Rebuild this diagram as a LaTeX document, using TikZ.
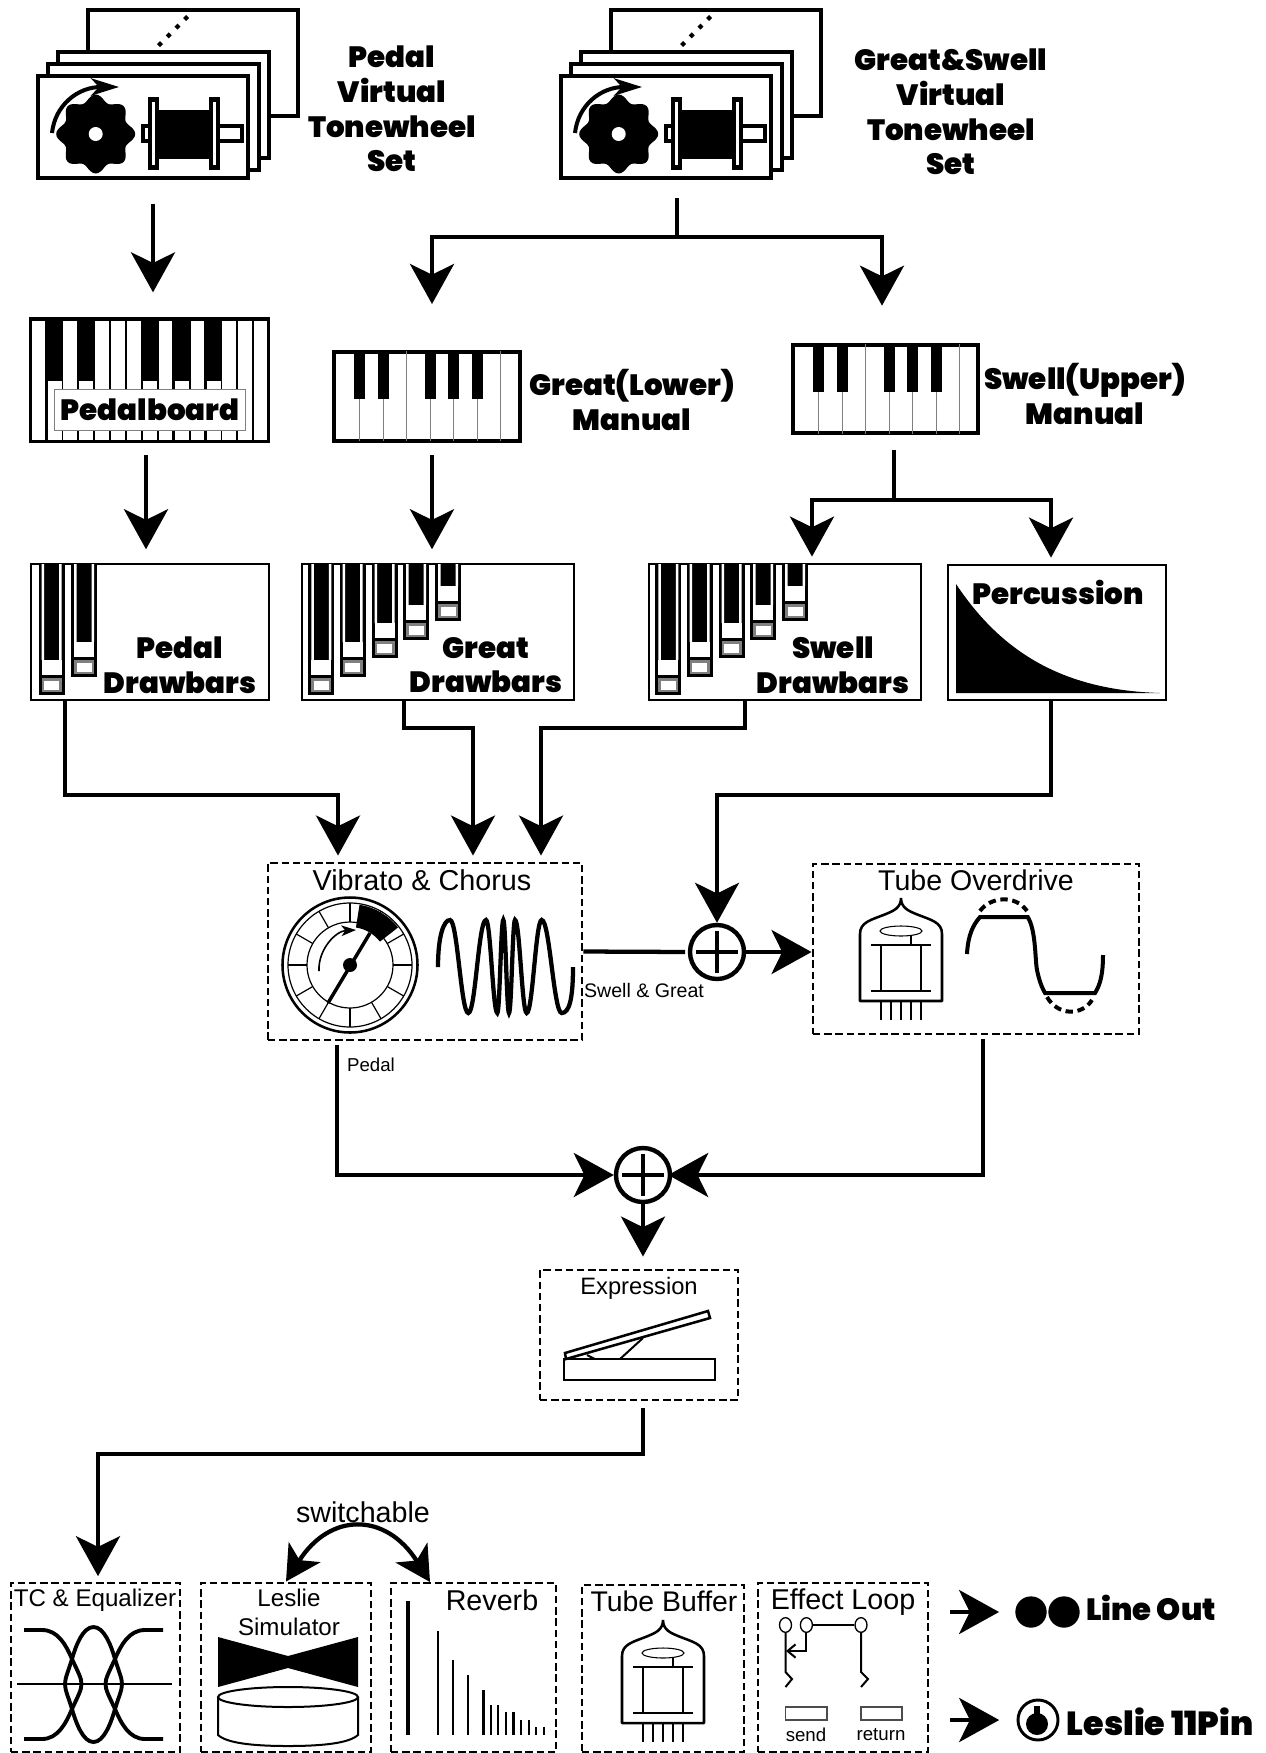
\documentclass[tikz,border=0pt]{standalone}
\usepackage{fontspec}
\setmainfont{Liberation Sans}
\newfontfamily\heavyfont{Poppins}[UprightFont=* Black]
\usetikzlibrary{arrows.meta,fit,positioning,shapes.geometric}

% one stack of virtual tonewheels, #1 = shift to the right
\newcommand{\wheelset}[1]{
  \begin{scope}[shift={(#1,0)}]
    \draw[sheet] (88,10) rectangle (298,116);
    \foreach \d in {0,1,2,3}
      \fill[shift={({160+\d*8.7},{44-\d*8.7})}] (0,-3) -- (3,0) -- (0,3) -- (-3,0) -- cycle;
    \draw[sheet] (58,52) rectangle (269,158);
    \draw[sheet] (48,64) rectangle (259,170);
    \draw[sheet] (38,76) rectangle (248,178);
    \fill[shift={(95.7,134)}] plot[domain=0:360,samples=97,smooth] (\x:{36+3.5*cos(8*\x)});
    \fill[white] (95.7,134) circle (7);
    \draw[line width=3pt,-{Stealth[length=21pt,width=13pt,inset=6pt]}] (52,133) .. controls (55,105) and (78,87) .. (119,87);
    \draw[line width=2.6pt] (143,126) rectangle (150,141);
    \draw[line width=2.6pt] (218,126) rectangle (242,141);
    \fill (159,110) rectangle (210,159);
    \foreach \f in {148,209} {
      \fill (\f,97) rectangle ({\f+11},170);
      \fill[white] ({\f+4},102) rectangle ({\f+7},165);
    }
  \end{scope}
}

% white keys with five black keys, #1,#2 = top left corner
\newcommand{\manualkeys}[2]{
  \begin{scope}[shift={(#1,#2)}]
    \foreach \k in {26.5,50,73.5,97,120.5,144,167.5}
      \draw[gray,line width=.7pt] (\k,0) -- (\k,90);
    \foreach \k in {26.5,50,97,120.5,144}
      \fill ({\k-5.5},0) rectangle ({\k+5.5},48);
  \end{scope}
}

% #1 = left edge, #2 = top of the white block
\newcommand{\drawbar}[2]{
  \begin{scope}[shift={(#1,564)}]
    \fill (0,0) rectangle (26,#2+35);
    \fill[white] (3,0) rectangle (5.5,#2) (20.5,0) rectangle (23,#2);
    \fill[white] (3,#2) rectangle (23,#2+15);
    \fill[black!50] (3,#2+18) rectangle (23,#2+32);
    \fill[white] (5.5,#2+20.5) rectangle (20.5,#2+30);
  \end{scope}
}

% #1,#2 = tip of the glass
\newcommand{\vacuumtube}[2]{
  \begin{scope}[shift={(#1,#2)}]
    \draw[line width=1.9pt,line join=round] (0,0) .. controls (0,10) and (-8,13) .. (-15,16) .. controls (-30,22) and (-41,24) .. (-41,36)
      -- (-41,103) -- (41,103) -- (41,36) .. controls (41,24) and (30,22) .. (15,16) .. controls (8,13) and (0,10) .. (0,0);
    \foreach \p in {-20,-10,0,10,20}
      \draw[line width=1.6pt] (\p,103) -- (\p,122);
    \draw[line width=.8pt] (0,33) ellipse (21 and 5);
    \draw[line width=.8pt] (10,38) -- (10,47) (-30,47) -- (30,47) (-30,93) -- (30,93) (-20,47) -- (-20,93) (20,47) -- (20,93);
  \end{scope}
}

\begin{document}
\begin{tikzpicture}[x=0.75pt, y=-0.75pt, >={Stealth[length=30pt,width=33pt,inset=8pt]},
    sheet/.style={draw, fill=white, line width=2.6pt},
    panel/.style={draw, fill=white, line width=2.1pt, inner sep=0pt},
    keybox/.style={draw, fill=white, line width=3pt, inner sep=0pt},
    dashbox/.style={draw, line width=2.2pt, dash pattern=on 5.5pt off 2.9pt, inner sep=0pt},
    holder/.style={inner sep=0pt},
    flow/.style={->, line width=3.2pt},
    stem/.style={line width=3.2pt},
    heavy/.style={font=\fontsize{22}{25.9}\heavyfont, align=center, inner sep=0pt},
    plain/.style={font=\fontsize{#1}{21.8}\selectfont, align=center, inner sep=0pt},
    summer/.style={circle, draw, line width=3.3pt, minimum size=40.5pt, inner sep=0pt},
    crossbar/.style={line width=3.3pt, shorten <=6pt, shorten >=6pt},
    jack/.style={ellipse, draw, line width=1pt, minimum width=9pt, minimum height=11pt, inner sep=0pt}]
  \useasboundingbox (0,0) rectangle (1266,1753);

  % Tonewheel sets
  \wheelset{0}
  \wheelset{523}
  \node[holder, fit={(37,10) (299,179)}] (pedalset) {};
  \node[holder, fit={(560,10) (822,179)}] (greatset) {};
  \node[heavy] (pedalsetlabel) at (392,109) {Pedal\\Virtual\\Tonewheel\\Set};
  \node[heavy] (greatsetlabel) at (951,112) {Great\&Swell\\Virtual\\Tonewheel\\Set};

  % Keyboards
  \node[keybox, fill=black, fit={(31,319) (268,441)}] (pedalboard) {};
  \foreach \a/\b in {32/45,63/77,95/109,111/125,127/141,159/172,191/204,222/236,238/252,254/267}
    \fill[white] (\a,321) rectangle (\b,440);
  \foreach \a/\b in {48/62,79/93,143/157,175/189,207/221}
    \fill[white] (\a,381) rectangle (\b,440);
  \node[draw=gray, fill=white, line width=.7pt, minimum width=143pt, minimum height=31pt, inner sep=0pt] (pedallabelbox) at (150,410) {};
  \node[heavy] (pedallabel) at (150,410) {Pedalboard};

  \node[keybox, fit={(334,352) (520,441)}] (greatkeys) {};
  \manualkeys{333}{351}
  \node[keybox, fit={(793,345) (978,433)}] (swellkeys) {};
  \manualkeys{792}{344}
  \node[heavy] (greatkeyslabel) at (632,400) {Great(Lower)\\Manual};
  \node[heavy] (swellkeyslabel) at (1085,394) {Swell(Upper)\\Manual};

  % Drawbars
  \node[panel, fit={(31,564) (269,700)}] (pedalbars) {};
  \node[panel, fit={(302,564) (574,700)}] (greatbars) {};
  \node[panel, fit={(649,564) (921,700)}] (swellbars) {};
  \foreach \x/\b in {38.7/96,71/78} {\drawbar{\x}{\b}}
  \foreach \x/\b in {308.3/96,339.7/78,371.7/59,403/41,435/22} {\drawbar{\x}{\b}}
  \foreach \x/\b in {655.3/96,686.7/78,718.7/59,750/41,782/22} {\drawbar{\x}{\b}}
  \node[heavy] (pedalbarslabel) at (180,665) {Pedal\\Drawbars};
  \node[heavy] (greatbarslabel) at (486,665) {Great\\Drawbars};
  \node[heavy] (swellbarslabel) at (833,665) {Swell\\Drawbars};

  % Percussion
  \node[panel, fit={(948,565) (1166,700)}] (percussion) {};
  \fill (956,584) .. controls (1000,650) and (1060,690) .. (1160,693) -- (956,693) -- cycle;
  \node[heavy] (percussionlabel) at (1058,592) {Percussion};

  % Vibrato & Chorus
  \node[dashbox, fit={(268,863) (582,1040)}] (vibrato) {};
  \node[plain=21.6] (vibratolabel) at (422,880) {Vibrato \& Chorus};
  \begin{scope}[shift={(350,965)}]
    \draw[line width=1.9pt] (0,0) circle (67.5);
    \draw[line width=.9pt] (0,0) circle (62) (0,0) circle (43);
    \foreach \a in {0,30,...,330}
      \draw[line width=.9pt] (\a:43) -- (\a:62);
    \fill (-81:38) -- (-81:61) arc (-81:-38:61) -- (-38:38) arc (-38:-81:38) -- cycle;
    \draw[line width=2.6pt] (-22,38) -- (20,-32);
    \fill (0,0) circle (7);
    \draw[line width=1.2pt,-{Stealth[length=11pt,width=8pt,inset=3pt]}] (-31,6) .. controls (-32,-16) and (-14,-34) .. (6,-35);
  \end{scope}
  \draw[line width=3.2pt] (438,967) .. controls (438,935) and (444,920) .. (450,920)
    .. controls (457.5,920) and (461,1013) .. (468.3,1013)
    .. controls (475.5,1013) and (478.5,920) .. (486,920)
    .. controls (490.5,920) and (493,1013) .. (497.3,1013)
    .. controls (499.7,1013) and (501,920) .. (503.3,920)
    .. controls (505.5,920) and (506.8,1013) .. (509,1013)
    .. controls (511.4,1013) and (512.6,920) .. (515,920)
    .. controls (519.7,920) and (522,1013) .. (526.7,1013)
    .. controls (532.7,1013) and (535.7,920) .. (541.7,920)
    .. controls (549.7,920) and (553.7,1013) .. (561.7,1013)
    .. controls (569,1013) and (573,1000) .. (573,967);

  % Tube Overdrive
  \node[dashbox, fit={(813,864) (1139,1034)}] (overdrive) {};
  \node[plain=21.4] (overdrivelabel) at (976,880) {Tube Overdrive};
  \vacuumtube{901}{898}
  \draw[line width=3pt] (967,954) .. controls (968,935) and (973,925) .. (980,917) -- (1027.7,917)
    .. controls (1036,930) and (1035,960) .. (1037,970) .. controls (1039,980) and (1042,988) .. (1045,993) -- (1095,993)
    .. controls (1100,985) and (1103,975) .. (1103,955);
  \draw[line width=3pt, dash pattern=on 5.5pt off 3.5pt] (980,911) .. controls (990,897) and (1015,894) .. (1027,911);
  \draw[line width=3pt, dash pattern=on 5.5pt off 3.5pt] (1047,997) .. controls (1058,1016) and (1082,1016) .. (1092,1000);

  % Summing points
  \node[summer] (plusa) at (717,952) {};
  \draw[crossbar] (plusa.north) -- (plusa.south);
  \draw[crossbar] (plusa.west) -- (plusa.east);
  \node[summer] (plusb) at (643,1175) {};
  \draw[crossbar] (plusb.north) -- (plusb.south);
  \draw[crossbar] (plusb.west) -- (plusb.east);
  \node[plain=14.7] (swellgreatlabel) at (644,990) {Swell \& Great};
  \node[plain=14] (pedalout) at (371,1065) {Pedal};

  % Expression
  \node[dashbox, fit={(540,1270) (738,1400)}] (expression) {};
  \node[plain=17.8] (expressionlabel) at (639,1288) {Expression};
  \draw[line width=1.9pt] (564,1359) rectangle (715,1380);
  \draw[line width=1.9pt] (565,1353) -- (708,1311) -- (710,1318) -- (566,1359) -- cycle;
  \draw[line width=1.5pt] (620,1359) -- (643,1338) (587,1355) -- (595,1359);

  % Output stages
  \node[dashbox, fit={(11,1583) (180,1752)}] (equalizer) {};
  \node[plain=18.1] (equalizerlabel) at (95,1600) {TC \& Equalizer};
  \draw[line width=1.3pt] (17,1684) -- (172,1684);
  \draw[line width=2.9pt] (24,1630) -- (42,1630) .. controls (58,1630) and (66,1645) .. (72,1659) .. controls (78,1672) and (81.5,1678) .. (81.5,1684)
    .. controls (81.5,1690) and (78,1696) .. (72,1709) .. controls (66,1723) and (58,1739) .. (42,1739) -- (24,1739);
  \draw[line width=2.9pt] (93.5,1627) .. controls (83,1627) and (76,1645) .. (72,1659) .. controls (68,1672) and (65,1678) .. (65,1684)
    .. controls (65,1690) and (68,1696) .. (72,1709) .. controls (76,1723) and (83,1742) .. (93.5,1742)
    .. controls (104,1742) and (111,1723) .. (115,1709) .. controls (119,1696) and (122,1690) .. (122,1684)
    .. controls (122,1678) and (119,1672) .. (115,1659) .. controls (111,1645) and (104,1627) .. (93.5,1627) -- cycle;
  \draw[line width=2.9pt] (163,1630) -- (145,1630) .. controls (129,1630) and (121,1645) .. (115,1659) .. controls (109,1672) and (105.5,1678) .. (105.5,1684)
    .. controls (105.5,1690) and (109,1696) .. (115,1709) .. controls (121,1723) and (129,1739) .. (145,1739) -- (163,1739);

  \node[dashbox, fit={(201,1583) (371,1752)}] (leslie) {};
  \node[plain=18.1] (leslielabel) at (289,1612) {Leslie\\Simulator};
  \fill (218,1637) -- (288,1656) -- (358,1637) -- (358,1687) -- (288,1668) -- (218,1687) -- cycle;
  \draw[line width=1.5pt] (288,1697) ellipse (70 and 10);
  \draw[line width=1.5pt] (218,1697) -- (218,1735) .. controls (227,1743) and (252,1746) .. (288,1746) .. controls (324,1746) and (349,1743) .. (358,1735) -- (358,1697);

  \node[dashbox, fit={(391,1583) (556,1752)}] (reverb) {};
  \node[plain=21.5] (reverblabel) at (492,1600) {Reverb};
  \draw[line width=3.4pt] (408,1601) -- (408,1735);
  \foreach \x/\t in {438/1631,453/1660,468/1675,483.5/1690,491/1705,498/1705,506/1712,513.5/1712,521/1720,529/1720,536/1727,544/1727}
    \draw[line width=1.7pt] (\x,\t) -- (\x,1735);

  \node[dashbox, fit={(582,1585) (744,1752)}] (buffer) {};
  \node[plain=21.3] (bufferlabel) at (664,1601) {Tube Buffer};
  \vacuumtube{663}{1620}

  \node[dashbox, fit={(758,1583) (928,1752)}] (effect) {};
  \node[plain=21.5] (effectlabel) at (843,1602) {Effect Loop};
  \node[jack] (jacka) at (785.5,1625) {};
  \node[jack] (jackb) at (806.4,1625) {};
  \node[jack] (jackc) at (861,1625) {};
  \draw[line width=1.5pt] (jackb) -- (jackc);
  \draw[line width=1.5pt] (jacka) -- (785.5,1672) -- (792,1679) -- (785.5,1687);
  \draw[line width=1.5pt] (jackc) -- (861,1672) -- (868,1679) -- (861,1687);
  \draw[line width=1.5pt, -{Straight Barb[length=6pt,width=10pt]}] (jackb) |- (786,1651);
  \node[draw=black!70, line width=1pt, fit={(785.5,1707) (827,1720)}, inner sep=0pt] (sendjack) {};
  \node[draw=black!70, line width=1pt, fit={(861,1707) (902,1720)}, inner sep=0pt] (returnjack) {};
  \node[plain=14] (sendlabel) at (806,1735) {send};
  \node[plain=14] (returnlabel) at (881,1735) {return};

  % Outputs
  \node[circle, fill=black, minimum size=23.5pt, inner sep=0pt] (linedota) at (1031,1612) {};
  \node[circle, fill=black, minimum size=23.5pt, inner sep=0pt] (linedotb) at (1064,1612) {};
  \node[heavy, font=\fontsize{23}{26}\heavyfont] (linelabel) at (1151,1608) {Line Out};
  \node[circle, draw, line width=2.2pt, minimum size=30pt, inner sep=0pt] (lesliepin) at (1038,1720) {};
  \fill (1037,1724) circle (11);
  \fill (1034,1706) rectangle (1040,1720);
  \node[heavy, font=\fontsize{25}{26}\heavyfont] (pinlabel) at (1160,1722) {Leslie 11Pin};
  \coordinate (lineoutstart) at (950,1612);
  \coordinate (pinoutstart) at (950,1720);

  % Define paths
  \draw[flow, shorten <=18.5pt, shorten >=18.5pt] (pedalset.south -| 153,0) -- (pedalboard.north -| 153,0);
  \draw[stem, shorten <=14pt] (greatset.south -| 677,0) -- (677,237);
  \draw[flow, shorten >=34.5pt] (677,237) -| (greatkeys.north -| 432,0);
  \draw[flow, shorten >=28pt] (677,237) -| (swellkeys.north -| 882,0);
  \draw[flow, shorten <=9pt, shorten >=10pt] (pedalboard.south -| 146,0) -- (pedalbars.north -| 146,0);
  \draw[flow, shorten <=9pt, shorten >=10pt] (greatkeys.south -| 432,0) -- (greatbars.north -| 432,0);
  \draw[stem, shorten <=11pt] (swellkeys.south -| 894,0) -- (894,500);
  \draw[flow, shorten >=4.5pt] (894,500) -| (swellbars.north -| 812,0);
  \draw[flow, shorten >=4.5pt] (894,500) -| (percussion.north -| 1051,0);

  \draw[flow, shorten >=4.5pt] (pedalbars.south -| 65,0) |- (338,795) -- (vibrato.north -| 338,0);
  \draw[flow, shorten >=4.5pt] (greatbars.south -| 404,0) |- (473,728) -- (vibrato.north -| 473,0);
  \draw[flow, shorten >=4.5pt] (swellbars.south -| 745,0) |- (541,728) -- (vibrato.north -| 541,0);
  \draw[flow] (percussion.south -| 1051,0) |- (717,795) -- (plusa.north);
  \draw[stem, shorten >=2pt] (vibrato.east) -- (plusa.west);
  \draw[flow] (plusa.east) -- (overdrive.west |- plusa.east);

  \draw[flow, shorten <=3pt] (vibrato.south -| 337,0) |- (plusb.west);
  \draw[flow, shorten <=3pt, shorten >=-3pt] (overdrive.south -| 983,0) |- (plusb.east);
  \draw[flow, shorten >=9pt] (plusb.south) -- (expression.north -| 643,0);
  \draw[flow, shorten <=5pt, shorten >=4pt] (expression.south -| 643,0) |- (98,1454) -- (equalizer.north -| 98,0);
  \coordinate (reverbtip) at (430,1582);
  \draw[{Stealth[length=26pt,width=28pt,inset=7pt]}-{Stealth[length=26pt,width=28pt,inset=7pt]}, line width=3.2pt] (leslie.north) .. controls (330,1512) and (386,1512) .. (reverbtip);
  \node[plain=21.5] (switchlabel) at (363,1512) {switchable};

  \draw[flow, shorten >=12pt] (lineoutstart) -- (linedota.west);
  \draw[flow, shorten >=13pt] (pinoutstart) -- (lesliepin.west);
\end{tikzpicture}
\end{document}
